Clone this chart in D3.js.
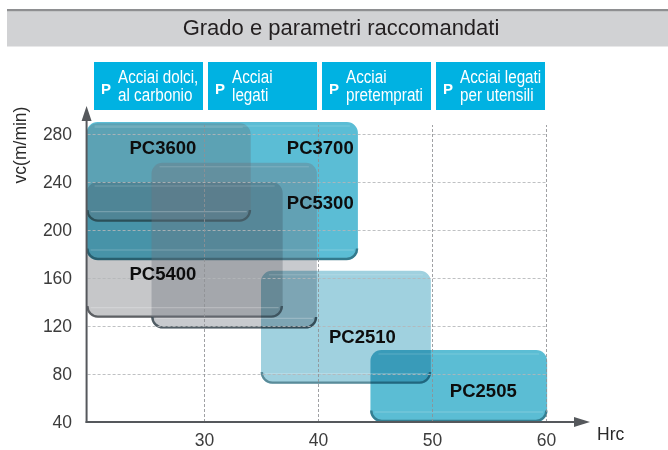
<!DOCTYPE html>
<html><head><meta charset="utf-8">
<script src="https://cdn.jsdelivr.net/npm/d3@7"></script>
<style>
html,body{margin:0;padding:0;background:#fff;}
svg{display:block;}
</style>
</head><body>
<svg id="chart" width="668" height="450"></svg>
<script>
// ---------- DATA ----------
const title = "Grado e parametri raccomandati";
const materialLetter = ["P","P","P","P"];
const materialLine1 = ["Acciai dolci,","Acciai","Acciai","Acciai legati"];
const materialLine2 = ["al carbonio","legati","pretemprati","per utensili"];
const materialFrom = [20,30,40,50];
const materialTo = [30,40,50,60];

const grades = ["PC5400","PC3700","PC3600","PC5300","PC2510","PC2505"];
const hrcMin = [19.7, 19.7, 19.7, 25.4, 35.0, 44.6];
const hrcMax = [36.9, 43.5, 34.1, 39.9, 49.9, 60.1];
const vcMin  = [127, 175, 207, 118, 72, 40];
const vcMax  = [240, 290, 289, 256, 166, 100];
const labelHrc = [26.4, 40.2, 26.4, 40.2, 43.9, 54.5];
const labelVc  = [164, 268.5, 268.5, 223, 111.5, 66.5];

const xTicks = [30,40,50,60];
const yTicks = [40,80,120,160,200,240,280];
const xTitle = "Hrc";
const yTitle = "vc(m/min)";

// ---------- STYLE ----------
const boxStyle = {
  PC5400:{fill:"#c6c7c9", blend:"normal", edge:"#4a4d52"},
  PC3700:{fill:"#5bbdd5", blend:"multiply", edge:"#2d6f80"},
  PC3600:{fill:"rgba(95,105,112,0.32)", blend:"normal", edge:"#24474f"},
  PC5300:{fill:"rgba(110,115,125,0.38)", blend:"normal", edge:"#3c4a52"},
  PC2510:{fill:"#a0d1df", blend:"multiply", edge:"#4d7f8d"},
  PC2505:{fill:"#5bbdd4", blend:"multiply", edge:"#2f7486"}
};

const svg = d3.select("#chart");
const x = d3.scaleLinear().domain([30,60]).range([204,546]);
const y = d3.scaleLinear().domain([40,280]).range([422,134]);
const xOrigin = 19.7;
const axisColor = "#55585c";

// ---------- TITLE BAR ----------
svg.append("rect").attr("x",7).attr("y",10).attr("width",661).attr("height",36.5).attr("fill","#d1d2d4");
svg.append("rect").attr("x",7).attr("y",9).attr("width",661).attr("height",2.2).attr("fill","#8e8f91");
svg.append("text").attr("x",341).attr("y",34.5).attr("text-anchor","middle")
  .attr("font-family","Liberation Sans, Arial, sans-serif").attr("font-size",22)
  .attr("fill","#231f20").text(title);

// ---------- MATERIAL HEADER BOXES ----------
const hdr = svg.append("g");
materialFrom.forEach((f,i)=>{
  const x0 = x(f)+4, x1 = x(materialTo[i])-1;
  const g = hdr.append("g");
  g.append("rect").attr("x",x0).attr("y",62).attr("width",x1-x0).attr("height",48).attr("fill","#00b2e2");
  g.append("text").attr("x",x0+7).attr("y",93.5).attr("font-family","Liberation Sans, Arial, sans-serif")
    .attr("font-weight","bold").attr("font-size",15).attr("fill","#fff").text(materialLetter[i]);
  [[materialLine1[i],82.5],[materialLine2[i],100.5]].forEach(([s,by])=>{
    g.append("text").attr("transform",`translate(${x0+24},${by}) scale(0.87,1)`)
      .attr("font-family","Liberation Sans, Arial, sans-serif")
      .attr("font-size",17.5).attr("fill","#fff").text(s);
  });
});

// ---------- BOXES ----------
function rr(x0,y0,x1,y1,r){
  return `M${x0+r},${y0}H${x1-r}A${r},${r} 0 0 1 ${x1},${y0+r}V${y1-r}A${r},${r} 0 0 1 ${x1-r},${y1}H${x0+r}A${r},${r} 0 0 1 ${x0},${y1-r}V${y0+r}A${r},${r} 0 0 1 ${x0+r},${y0}Z`;
}
function bottomEdge(x0,x1,y1,r){
  return `M${x0},${y1-r}A${r},${r} 0 0 0 ${x0+r},${y1}H${x1-r}A${r},${r} 0 0 0 ${x1},${y1-r}`;
}
const boxes = svg.append("g");
grades.forEach((name,i)=>{
  const st = boxStyle[name];
  const x0 = x(hrcMin[i]), x1 = x(hrcMax[i]);
  const y0 = y(vcMax[i]), y1 = y(vcMin[i]);
  const r = 11;
  const g = boxes.append("g").style("mix-blend-mode", st.blend);
  g.append("path").attr("d",rr(x0,y0,x1,y1,r)).attr("fill",st.fill);
  g.append("path").attr("d",bottomEdge(x0+0.8,x1-0.8,y1-1,r-0.5)).attr("fill","none")
    .attr("stroke",st.edge).attr("stroke-width",2.4).attr("stroke-opacity",0.85);
});
// highlights (soft glossy lines)
grades.forEach((name,i)=>{
  const x0 = x(hrcMin[i]), x1 = x(hrcMax[i]);
  const y0 = y(vcMax[i]), y1 = y(vcMin[i]);
  boxes.append("line").attr("x1",x0+4).attr("x2",x1-4).attr("y1",y1-10).attr("y2",y1-10)
    .attr("stroke","#fff").attr("stroke-opacity",0.22).attr("stroke-width",1.2);
  boxes.append("line").attr("x1",x0+8).attr("x2",x1-8).attr("y1",y0+4).attr("y2",y0+4)
    .attr("stroke","#fff").attr("stroke-opacity",0.18).attr("stroke-width",1);
});

// ---------- GRID ----------
const grid = svg.append("g");
yTicks.filter(v=>v>40).forEach(v=>{
  grid.append("line").attr("x1",x(xOrigin)+1).attr("x2",x(60)+1).attr("y1",Math.round(y(v))+0.5).attr("y2",Math.round(y(v))+0.5)
    .attr("stroke","#b4b6b8").attr("stroke-width",1).attr("stroke-dasharray","3,2").attr("stroke-opacity",0.85);
});
xTicks.forEach(v=>{
  grid.append("line").attr("x1",Math.round(x(v))+0.5).attr("x2",Math.round(x(v))+0.5).attr("y1",y(40)).attr("y2",125)
    .attr("stroke","#8f9194").attr("stroke-width",1).attr("stroke-dasharray","3,2").attr("stroke-opacity",0.85);
});

// ---------- LABELS ----------
grades.forEach((name,i)=>{
  svg.append("text").attr("x",x(labelHrc[i])).attr("y",y(labelVc[i])).attr("dy","0.36em")
    .attr("text-anchor","middle").attr("font-family","Liberation Sans, Arial, sans-serif")
    .attr("font-weight","bold").attr("font-size",18.5).attr("fill","#0d0d0d").text(name);
});

// ---------- AXES ----------
const ax0 = x(xOrigin);
svg.append("line").attr("x1",ax0).attr("x2",ax0).attr("y1",y(40)+1).attr("y2",118)
  .attr("stroke",axisColor).attr("stroke-width",2);
svg.append("path").attr("d",`M${ax0},106L${ax0-5},121L${ax0+5},121Z`).attr("fill",axisColor);
svg.append("line").attr("x1",ax0-1).attr("x2",578).attr("y1",y(40)).attr("y2",y(40))
  .attr("stroke",axisColor).attr("stroke-width",2);
svg.append("path").attr("d",`M590,${y(40)}L574,${y(40)-5}L574,${y(40)+5}Z`).attr("fill",axisColor);

const yAxis = svg.append("g").attr("transform",`translate(${ax0},0)`)
  .call(d3.axisLeft(y).tickValues(yTicks).tickSize(0).tickPadding(14.5));
const xAxis = svg.append("g").attr("transform",`translate(0,${y(40)})`)
  .call(d3.axisBottom(x).tickValues(xTicks).tickSize(0).tickPadding(11.5));
[yAxis,xAxis].forEach(a=>{
  a.select(".domain").remove();
  a.selectAll("text").attr("font-family","Liberation Sans, Arial, sans-serif")
    .attr("font-size",17.5).attr("fill","#3c3c3c");
});
svg.append("text").attr("x",597).attr("y",440).attr("font-family","Liberation Sans, Arial, sans-serif")
  .attr("font-size",17.5).attr("fill","#2a2a2a").text(xTitle);
svg.append("text").attr("transform","translate(26,145) rotate(-90)").attr("text-anchor","middle")
  .attr("font-family","Liberation Sans, Arial, sans-serif").attr("font-size",17.5).attr("fill","#2a2a2a").text(yTitle);
</script>
</body></html>
